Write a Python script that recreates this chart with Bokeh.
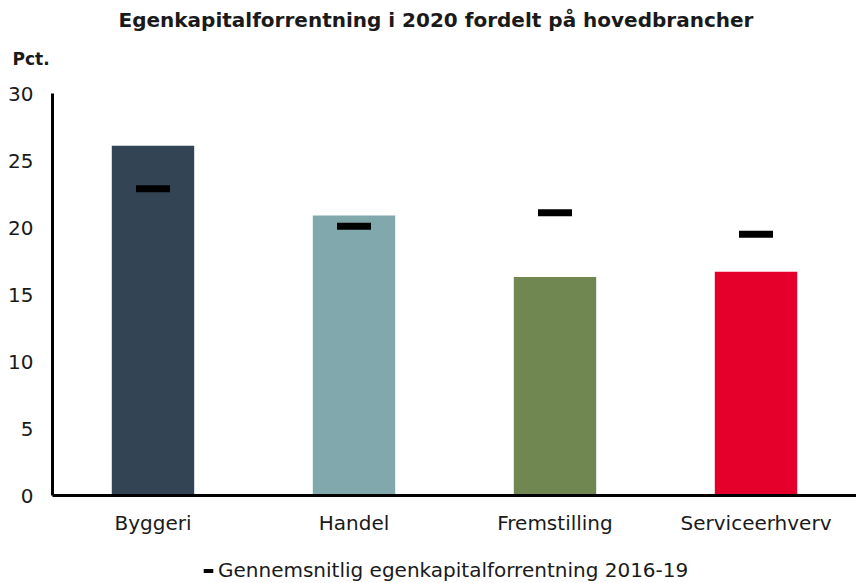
from bokeh.plotting import figure
from bokeh.layouts import column
from bokeh.models import ColumnDataSource, FactorRange, Range1d, Legend, LegendItem, Title, FixedTicker
from bokeh.embed import file_html
from bokeh.resources import INLINE

categories = ["Byggeri", "Handel", "Fremstilling", "Serviceerhverv"]
values_2020 = [26.1, 20.9, 16.3, 16.7]
avg_2016_19 = [22.9, 20.1, 21.1, 19.5]
colors = ["#334554", "#80A8AD", "#718752", "#E5002B"]
y_ticks = [0, 5, 10, 15, 20, 25, 30]

FONT = "DejaVu Sans"
TXT = "#1a1a1a"

src = ColumnDataSource(dict(cat=categories, val=values_2020, avg=avg_2016_19, color=colors))

p = figure(frame_width=804, frame_height=402, x_range=FactorRange(*categories, range_padding=0),
           y_range=Range1d(0, 30), output_backend="svg", toolbar_location=None,
           title=None, min_border_left=52, min_border_right=0, min_border_top=93,
           min_border_bottom=62, outline_line_color=None)

p.vbar(x="cat", top="val", width=0.41, color="color", source=src, line_color=None)
p.rect(x="cat", y="avg", width=34, height=7, width_units="screen", height_units="screen",
       fill_color="black", line_color=None, source=src)

p.xgrid.visible = False
p.ygrid.visible = False

p.yaxis.ticker = FixedTicker(ticks=y_ticks)
for ax in (p.xaxis[0], p.yaxis[0]):
    ax.axis_line_width = 3
    ax.axis_line_color = "black"
    ax.major_tick_line_color = None
    ax.minor_tick_line_color = None
    ax.major_label_text_font = FONT
    ax.major_label_text_font_size = "20px"
    ax.major_label_text_color = TXT
p.yaxis.major_label_standoff = 13
p.xaxis.major_label_standoff = 9

p.add_layout(Title(text="Pct.", align="left", offset=-40, text_font=FONT, text_font_size="17px",
                   text_font_style="bold", text_color=TXT, standoff=49), "above")
p.add_layout(Title(text="Egenkapitalforrentning i 2020 fordelt på hovedbrancher", align="left",
                   offset=66, text_font=FONT, text_font_size="20px", text_font_style="bold",
                   text_color=TXT, standoff=-18), "above")

# legend strip below the chart
lg = figure(width=856, height=26, x_range=FactorRange(*categories), y_range=Range1d(0, 1),
            output_backend="svg", toolbar_location=None, min_border=0,
            outline_line_color=None)
lg.axis.visible = False
lg.xgrid.visible = False
lg.ygrid.visible = False
lr = lg.rect(x="cat", y="avg", width=12, height=5, width_units="screen", height_units="screen",
             fill_color="black", line_color=None, source=src)
legend = Legend(items=[LegendItem(label="Gennemsnitlig egenkapitalforrentning 2016-19", renderers=[lr])],
                location=(150, 1), orientation="horizontal", glyph_width=12, glyph_height=5,
                label_text_font=FONT, label_text_font_size="20px", label_text_color=TXT,
                border_line_color=None, background_fill_alpha=0, label_standoff=4,
                padding=0, margin=0, spacing=0, label_height=20)
lg.add_layout(legend, "center")

layout = column(p, lg, spacing=0)
open("out.html", "w").write(file_html(layout, INLINE))
